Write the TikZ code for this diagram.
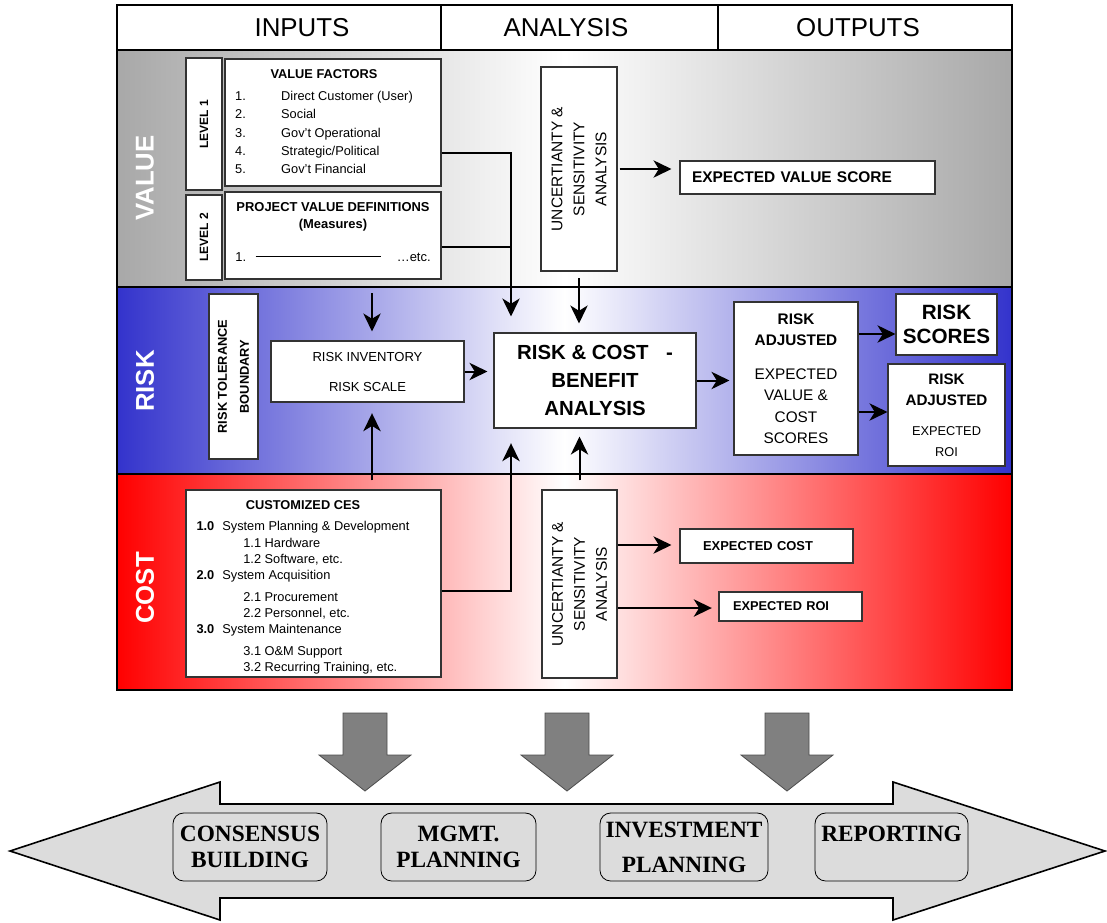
\documentclass[tikz,border=0pt]{standalone}
\usepackage{fontspec}
\setmainfont{Liberation Sans}
\newfontfamily\bookfont{Liberation Serif}
\usetikzlibrary{arrows.meta}
\definecolor{valuegray}{RGB}{168,168,168}
\definecolor{riskblue}{RGB}{51,51,204}
\definecolor{costred}{RGB}{255,0,0}
\definecolor{feedgray}{RGB}{128,128,128}
\definecolor{basegray}{RGB}{220,220,220}
\tikzset{
  box/.style={draw=black!80, line width=0.8pt, fill=white, inner sep=0pt, align=center},
  wh/.style 2 args={minimum width=#1*0.75pt, minimum height=#2*0.75pt},
  flow/.style={line width=1.5pt, -{Stealth[length=13.5pt,width=13pt,inset=4pt]}},
  link/.style={line width=1.5pt},
  band label/.style={rotate=90, text=white, font=\bfseries\fontsize{19.3}{23}\selectfont},
  head label/.style={font=\fontsize{19.4}{23}\selectfont},
  goal/.style={draw=black, line width=0.6pt, rounded corners=8pt, fill=basegray, inner sep=0pt,
    align=center, font=\bookfont\bfseries\fontsize{17.5}{19.5}\selectfont},
}
\begin{document}
\begin{tikzpicture}[x=0.75pt, y=-0.75pt]
\useasboundingbox (0,0) rectangle (1107,922);
%%% bands
\shade[left color=valuegray, right color=valuegray, middle color=white] (117,50) rectangle (1012,287);
\shade[left color=riskblue, right color=riskblue, middle color=white] (117,287) rectangle (1012,474);
\shade[left color=costred, right color=costred, middle color=white] (117,474) rectangle (1012,690);
\draw[line width=1.5pt] (117,5) rectangle (1012,690);
\draw[line width=1.5pt] (117,50) -- (1012,50) (117,287) -- (1012,287) (117,474) -- (1012,474);
\draw[line width=1.2pt] (441,5) -- (441,50) (718,5) -- (718,50);
%%% header
\node[head label] (inputs) at (302,28) {INPUTS};
\node[head label] (analysis) at (566,28) {ANALYSIS};
\node[head label] (outputs) at (858,28) {OUTPUTS};
\node[band label] (valueL) at (145,178) {VALUE};
\node[band label] (riskL) at (145,381) {RISK};
\node[band label] (costL) at (145,588) {COST};

%%% value row
\node[box, rotate=90, wh={132}{36}, font=\bfseries\fontsize{9}{11}\selectfont] (lvlOne) at (204,124) {LEVEL 1};
\node[box, rotate=90, wh={85}{36}, font=\bfseries\fontsize{9}{11}\selectfont] (lvlTwo) at (204,237.5) {LEVEL 2};
\node[box, wh={216}{127}, font=\fontsize{9.6}{13.7}\selectfont] (factors) at (333,122.5) {%
  \begin{tabular}{@{}p{34.5pt}@{}l@{\hspace{13.5pt}}}
  \multicolumn{2}{@{}c@{\hspace{13.5pt}}}{\textbf{VALUE FACTORS}}\\[2.8pt]
  1. & Direct Customer (User)\\
  2. & Social\\
  3. & Gov't Operational\\
  4. & Strategic/Political\\
  5. & Gov't Financial
  \end{tabular}};
\node[box, wh={216}{87}, font=\bfseries\fontsize{9.7}{12.75}\selectfont] (definitions) at (333,235.5)
  {PROJECT VALUE DEFINITIONS\\(Measures)\\[12pt]
   \mdseries 1.\hspace{7pt}\rule[3.2pt]{94pt}{0.8pt}\hspace{12pt}\ldots etc.\rule[-5pt]{0pt}{1pt}};
\node[box, rotate=90, wh={204}{76}, font=\fontsize{11.6}{16.5}\selectfont] (valueUA) at (579,169)
  {UNCERTIANTY \&\\SENSITIVITY\\ANALYSIS};
\node[box, wh={255}{33}, inner xsep=9pt, text width=173.25pt, align=left,
  font=\bfseries\fontsize{11.6}{14}\selectfont] (valueScore) at (807.5,177.5) {EXPECTED VALUE SCORE};

%%% risk row
\node[box, rotate=90, wh={165}{49}, font=\bfseries\fontsize{9.6}{16.5}\selectfont] (tolerance) at (233.5,376.5)
  {RISK TOLERANCE\\BOUNDARY};
\node[box, wh={193}{61}, font=\fontsize{9.8}{22.5}\selectfont] (inventory) at (367.5,371.5) {RISK INVENTORY\\RISK SCALE};
\node[box, wh={202}{95}, font=\bfseries\fontsize{15.3}{21}\selectfont] (benefit) at (595,380.5)
  {RISK \& COST\hspace{13pt}-\\BENEFIT\\ANALYSIS};
\node[box, wh={124}{153}, font=\fontsize{11.5}{16}\selectfont] (adjusted) at (796,378.5)
  {\textbf{RISK}\\\textbf{ADJUSTED}\\[9.5pt]EXPECTED\\VALUE \&\\COST\\SCORES};
\node[box, wh={101}{61}, font=\bfseries\fontsize{15.5}{18}\selectfont] (scores) at (946.5,324.5) {RISK\\SCORES};
\node[box, wh={117}{102}, font=\fontsize{11.4}{15.75}\selectfont] (roi) at (946.5,415)
  {\textbf{RISK}\\\textbf{ADJUSTED}\\[6.75pt]{\fontsize{9.6}{15}\selectfont EXPECTED}\\{\fontsize{9.6}{15}\selectfont ROI}};

%%% cost row
\node[box, wh={255}{187}, font=\fontsize{9.6}{12.2}\selectfont] (ces) at (313.5,583.5) {%
  \begin{tabular}{@{}l@{\hspace{6pt}}l@{\hspace{15.75pt}}}
  \multicolumn{2}{@{}c@{\hspace{15.75pt}}}{\rule{0pt}{14pt}\textbf{CUSTOMIZED CES}}\\[4pt]
  \textbf{1.0} & System Planning \& Development\\
   & \hspace{15.75pt}1.1 Hardware\\
   & \hspace{15.75pt}1.2 Software, etc.\\
  \textbf{2.0} & System Acquisition\\[4pt]
   & \hspace{15.75pt}2.1 Procurement\\
   & \hspace{15.75pt}2.2 Personnel, etc.\\
  \textbf{3.0} & System Maintenance\\[4pt]
   & \hspace{15.75pt}3.1 O\&M Support\\
   & \hspace{15.75pt}3.2 Recurring Training, etc.
  \end{tabular}};
\node[box, rotate=90, wh={188}{75}, font=\fontsize{11.6}{16.5}\selectfont] (costUA) at (579.5,584)
  {UNCERTIANTY \&\\SENSITIVITY\\ANALYSIS};
\node[box, wh={173}{34}, inner xsep=17.25pt, text width=95.25pt, align=left,
  font=\bfseries\fontsize{9.7}{12}\selectfont] (expCost) at (766.5,546) {EXPECTED COST};
\node[box, wh={143}{29}, inner xsep=10.5pt, text width=86.25pt, align=left,
  font=\bfseries\fontsize{9.6}{12}\selectfont] (expRoi) at (790.5,606.5) {EXPECTED ROI};

%%% connectors
\coordinate (colA) at (511,0);
\coordinate (rowF) at (0,153);
\coordinate (rowD) at (0,247);
\coordinate (rowC) at (0,591);
\coordinate (rowS) at (0,334);
\coordinate (rowR) at (0,412);
\coordinate (rowEC) at (0,545);
\coordinate (rowER) at (0,608);
\coordinate (riskTop) at (372,293);
\draw[flow, shorten >=12pt] (factors.east |- rowF) -| (benefit.north -| colA);
\draw[link] (definitions.east |- rowD) -- (rowD -| colA);
\draw[flow, shorten <=5pt, shorten >=6.75pt] (valueUA.west) -- (benefit.north -| valueUA.west);
\draw[flow, shorten <=1.5pt, shorten >=6pt] (valueUA.south) -- (valueUA.south -| valueScore.west);
\draw[flow, shorten >=6.75pt] (riskTop) -- (inventory.north -| riskTop);
\draw[flow, shorten <=6.75pt, shorten >=8pt] (ces.north -| riskTop) -- (inventory.south -| riskTop);
\draw[flow, shorten >=4.5pt] (inventory.east) -- (inventory.east -| benefit.west);
\draw[flow, shorten >=11pt] (ces.east |- rowC) -| (benefit.south -| colA);
\draw[flow, shorten <=6.75pt, shorten >=6pt] (costUA.east) -- (benefit.south -| costUA.east);
\draw[flow, shorten >=3pt] (benefit.east) -- (benefit.east -| adjusted.west);
\draw[flow] (adjusted.east |- rowS) -- (rowS -| scores.west);
\draw[flow] (adjusted.east |- rowR) -- (rowR -| roi.west);
\draw[flow, shorten >=6pt] (costUA.south |- rowEC) -- (rowEC -| expCost.west);
\draw[flow, shorten >=5pt] (costUA.south |- rowER) -- (rowER -| expRoi.west);

%%% feed arrows
\foreach \cx in {365,567,787}
  \draw[fill=feedgray, draw=black!70, line width=0.6pt] (\cx-22,713) -- (\cx+22,713) -- (\cx+22,755)
    -- (\cx+46,755) -- (\cx,791) -- (\cx-46,755) -- (\cx-22,755) -- cycle;
%%% base double arrow
\draw[fill=basegray, line width=1.2pt] (10,851) -- (220,782) -- (220,804) -- (893,804) -- (893,782)
  -- (1105,851) -- (893,920) -- (893,898) -- (220,898) -- (220,920) -- cycle;
\node[goal, wh={154}{68}] (consensus) at (250,847) {CONSENSUS\\BUILDING};
\node[goal, wh={155}{68}] (mgmt) at (458.5,847) {MGMT.\\PLANNING};
\node[goal, wh={168}{68}] (investment) at (684,847) {INVESTMENT\\[6.75pt]PLANNING};
\node[goal, wh={153}{68}] (reporting) at (891.5,847) {REPORTING\\\mbox{}};
\end{tikzpicture}
\end{document}
